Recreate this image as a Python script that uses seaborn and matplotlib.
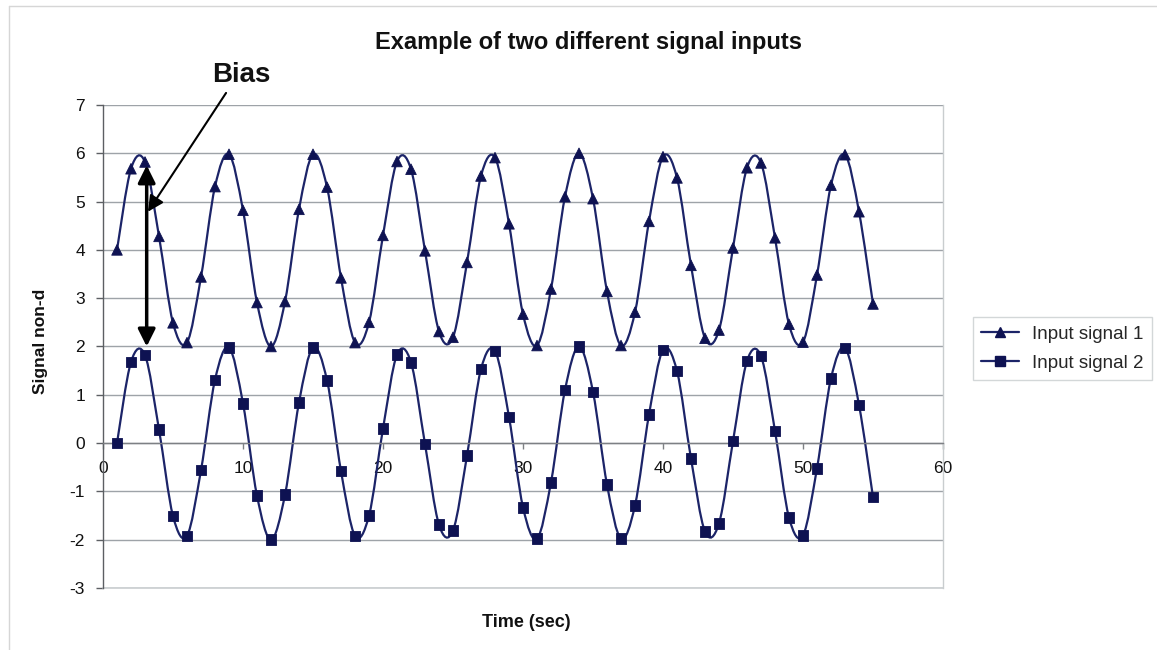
import numpy as np
import pandas as pd
import matplotlib
matplotlib.use("Agg")
import matplotlib.pyplot as plt
import seaborn as sns
from matplotlib.path import Path
from matplotlib.patches import PathPatch
from matplotlib.lines import Line2D

# ---------------- data ----------------
time_sec = list(range(1, 56))
input_signal_1 = [4.00, 5.68, 5.82, 4.28, 2.49, 2.08, 3.44, 5.31, 5.98, 4.82,
                  2.91, 2.00, 2.93, 4.84, 5.98, 5.30, 3.42, 2.08, 2.50, 4.30,
                  5.83, 5.67, 3.98, 2.31, 2.19, 3.74, 5.53, 5.91, 4.54, 2.67,
                  2.02, 3.19, 5.10, 6.00, 5.06, 3.14, 2.02, 2.71, 4.59, 5.93,
                  5.49, 3.68, 2.17, 2.34, 4.04, 5.70, 5.80, 4.25, 2.46, 2.09,
                  3.48, 5.34, 5.97, 4.79, 2.88]
input_signal_2 = [0.00, 1.68, 1.82, 0.28, -1.51, -1.92, -0.56, 1.31, 1.98, 0.82,
                  -1.09, -2.00, -1.07, 0.84, 1.98, 1.30, -0.58, -1.92, -1.50, 0.30,
                  1.83, 1.67, -0.02, -1.69, -1.81, -0.26, 1.53, 1.91, 0.54, -1.33,
                  -1.98, -0.81, 1.10, 2.00, 1.06, -0.86, -1.98, -1.29, 0.59, 1.93,
                  1.49, -0.32, -1.83, -1.66, 0.04, 1.70, 1.80, 0.25, -1.54, -1.91,
                  -0.52, 1.34, 1.97, 0.79, -1.12]
series_names = ["Input signal 1", "Input signal 2"]
x_ticks = [0, 10, 20, 30, 40, 50, 60]
y_ticks = [-3, -2, -1, 0, 1, 2, 3, 4, 5, 6, 7]

title_text = "Example of two different signal inputs"
x_label = "Time (sec)"
y_label = "Signal non-d"
bias_label = "Bias"

# ---------------- style ----------------
sns.set_theme(style="white")
plt.rcParams["font.family"] = ["Liberation Sans", "DejaVu Sans"]

line_color = "#1c2468"
marker_color = "#0e1252"
grid_color = "#9ea3a8"
frame_color = "#c9cdcf"

df = pd.DataFrame({
    "Time": time_sec * 2,
    "Signal": input_signal_1 + input_signal_2,
    "Series": [series_names[0]] * len(time_sec) + [series_names[1]] * len(time_sec),
})

fig = plt.figure(figsize=(11.57, 6.5), dpi=100)
ax = fig.add_axes([103 / 1157, 62 / 650, 840 / 1157, 483 / 650])


def smooth_path(xs, ys):
    """Excel-like smoothed line (Catmull-Rom as cubic Bezier) through the data."""
    pts = np.column_stack([xs, ys]).astype(float)
    n = len(pts)
    verts = [pts[0]]
    codes = [Path.MOVETO]
    for i in range(n - 1):
        p0 = pts[i - 1] if i > 0 else pts[i]
        p1 = pts[i]
        p2 = pts[i + 1]
        p3 = pts[i + 2] if i + 2 < n else pts[i + 1]
        c1 = p1 + (p2 - p0) / 6.0
        c2 = p2 - (p3 - p1) / 6.0
        verts += [c1, c2, p2]
        codes += [Path.CURVE4] * 3
    return Path(verts, codes)


for name in series_names:
    sub = df[df["Series"] == name]
    patch = PathPatch(smooth_path(sub["Time"].values, sub["Signal"].values),
                      fill=False, edgecolor=line_color, lw=1.6, zorder=2,
                      transform=ax.transData)
    ax.add_patch(patch)

sns.scatterplot(data=df, x="Time", y="Signal", style="Series",
                markers={series_names[0]: "^", series_names[1]: "s"},
                color=marker_color, edgecolor=marker_color, s=58,
                legend=False, ax=ax, zorder=3)

ax.set_xlim(0, 60)
ax.set_ylim(-3, 7)
ax.set_xticks(x_ticks)
ax.set_yticks(y_ticks)
ax.set_xticklabels([str(t) for t in x_ticks])
ax.set_yticklabels([str(t) for t in y_ticks])

ax.grid(axis="y", color=grid_color, lw=1.0)
ax.grid(axis="x", visible=False)
ax.set_axisbelow(True)

ax.spines["bottom"].set_position(("data", 0))
ax.spines["bottom"].set_color("#7d8084")
ax.spines["bottom"].set_linewidth(1.0)
ax.spines["left"].set_color("#5c5f63")
ax.spines["left"].set_linewidth(1.0)
ax.spines["top"].set_visible(False)
ax.spines["right"].set_color(frame_color)
ax.spines["right"].set_linewidth(1.0)
ax.axhline(-3, color=frame_color, lw=1.2, clip_on=False, zorder=1)

ax.tick_params(axis="x", direction="out", length=4, width=1, color="#7d8084",
               pad=9, labelsize=12.5, labelcolor="#111111", bottom=True)
ax.tick_params(axis="y", direction="out", length=5, width=1, color="#5c5f63",
               pad=8, labelsize=12.5, labelcolor="#111111", left=True)

ax.set_xlabel(x_label, fontsize=13, fontweight="bold", color="#111111")
ax.xaxis.set_label_coords(0.5036, -0.054)
ax.set_ylabel(y_label, fontsize=12.5, fontweight="bold", color="#111111")
ax.yaxis.set_label_coords(-0.066, 0.51)

fig.text(589 / 1157, 1 - 43 / 650, title_text, ha="center", va="center",
         fontsize=17, fontweight="bold", color="#111111")

# Bias annotation
ax.text(9.86, 7.62, bias_label, ha="center", va="center", fontsize=20,
        fontweight="bold", color="#111111", clip_on=False)
ax.annotate("", xy=(3.21, 4.79), xytext=(8.79, 7.25), annotation_clip=False,
            arrowprops=dict(arrowstyle="-|>", color="black", lw=1.5,
                            mutation_scale=24, shrinkA=0, shrinkB=0))
ax.annotate("", xy=(3.12, 2.0), xytext=(3.12, 5.75), annotation_clip=False,
            arrowprops=dict(arrowstyle="<|-|>", color="black", lw=2.5,
                            mutation_scale=26, shrinkA=0, shrinkB=0), zorder=4)

# Legend
handles = [
    Line2D([], [], color=line_color, lw=1.6, marker="^", markersize=7,
           markerfacecolor=marker_color, markeredgecolor=marker_color),
    Line2D([], [], color=line_color, lw=1.6, marker="s", markersize=6.5,
           markerfacecolor=marker_color, markeredgecolor=marker_color),
]
leg = fig.legend(handles, series_names, loc="upper left",
                 bbox_to_anchor=(973 / 1157, 1 - 317 / 650),
                 fontsize=13.5, frameon=True, fancybox=False,
                 handlelength=2.0, handletextpad=0.7, borderpad=0.45,
                 labelspacing=0.65, borderaxespad=0)
leg.get_frame().set_edgecolor(frame_color)
leg.get_frame().set_linewidth(1.0)

# faint chart-area border
fig.add_artist(Line2D([9 / 1157, 9 / 1157], [0, 1 - 6 / 650],
                      transform=fig.transFigure, color="#d6d6d6", lw=1))
fig.add_artist(Line2D([9 / 1157, 1], [1 - 6 / 650, 1 - 6 / 650],
                      transform=fig.transFigure, color="#d6d6d6", lw=1))

fig.savefig("out.png", dpi=100, facecolor="white")
